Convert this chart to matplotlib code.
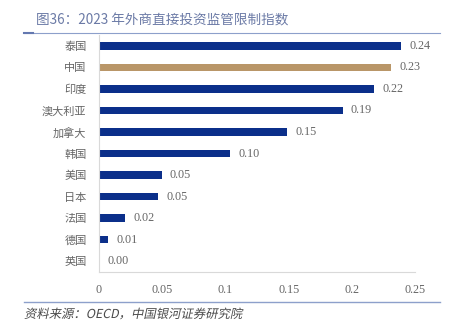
import matplotlib
matplotlib.use("Agg")
import matplotlib.pyplot as plt
from matplotlib.textpath import TextPath
from matplotlib.patches import PathPatch
from matplotlib.font_manager import FontProperties
import matplotlib.transforms as mtransforms
from matplotlib.lines import Line2D

plt.rcParams['font.family'] = ['Noto Sans CJK SC', 'DejaVu Sans']

# indice de restriction IDE 2023 (OCDE)
pays = ["泰国", "中国", "印度", "澳大利亚", "加拿大", "韩国", "美国", "日本", "法国", "德国", "英国"]
indice = [0.2385, 0.2306, 0.2175, 0.1925, 0.1487, 0.1035, 0.0495, 0.0468, 0.0208, 0.0073, 0.0]
graduations = [0, 0.05, 0.1, 0.15, 0.2, 0.25]
etiquettes_x = ["0", "0.05", "0.1", "0.15", "0.2", "0.25"]

bleu = "#0b2f8a"
or_ = "#b99668"
gris = "#666666"

fig = plt.figure(figsize=(4.56, 3.36), dpi=100)
ax = fig.add_axes([0.217, 0.1912, 0.694, 0.7039])

couleurs = [or_ if p == "中国" else bleu for p in pays]
pos = list(range(len(pays)))
ax.barh(pos, indice, height=0.37, color=couleurs)
ax.set_ylim(len(pays) - 0.5, -0.5)
ax.set_xlim(0, 0.25)

for y, v in zip(pos, indice):
    ax.annotate(f"{v:.2f}", (v, y), xytext=(6, 0), textcoords="offset points",
                ha="left", va="center", fontsize=8.7, color=gris,
                family=["Liberation Serif"], clip_on=False, annotation_clip=False)

ax.set_yticks(pos)
ax.set_yticklabels(pays, fontsize=8, color=gris, fontweight="light")
ax.set_xticks(graduations)
ax.set_xticklabels(etiquettes_x, fontsize=8.7, color=gris, family=["Liberation Serif"])
ax.tick_params(axis="y", length=0, pad=9)
ax.tick_params(axis="x", length=0, pad=9)

for s in ["top", "right"]:
    ax.spines[s].set_visible(False)
ax.spines["left"].set_color("#d9d9d9")
ax.spines["bottom"].set_color("#d9d9d9")
ax.spines["left"].set_linewidth(0.8)
ax.spines["bottom"].set_linewidth(0.8)

# titre et filets
fig.text(36 / 456, 1 - 20 / 336, "图36：2023 年外商直接投资监管限制指数",
         fontsize=9.8, color="#6b7aa6", ha="left", va="center", fontweight="light")
fig.add_artist(Line2D([24 / 456, 440 / 456], [1 - 33 / 336] * 2, color="#8da0cb", lw=0.8))
fig.add_artist(Line2D([24 / 456, 33 / 456], [1 - 33 / 336] * 2, color="#6478b0", lw=1.5))
fig.add_artist(Line2D([24 / 456, 440 / 456], [1 - 302 / 336] * 2, color="#8da0cb", lw=1.0))

# source en italique (police CJK inclinee)
fp = FontProperties(family="Noto Sans CJK SC", size=8.9, weight="light")
tp = TextPath((0, 0), "资料来源：OECD，中国银河证券研究院", prop=fp)
tr = mtransforms.Affine2D().skew_deg(12, 0).scale(1 / 72.).translate(24 / 100, (336 - 318) / 100) + fig.dpi_scale_trans
fig.add_artist(PathPatch(tp, transform=tr, color="#4a4a4a", lw=0))

fig.savefig("out.png", dpi=100)
